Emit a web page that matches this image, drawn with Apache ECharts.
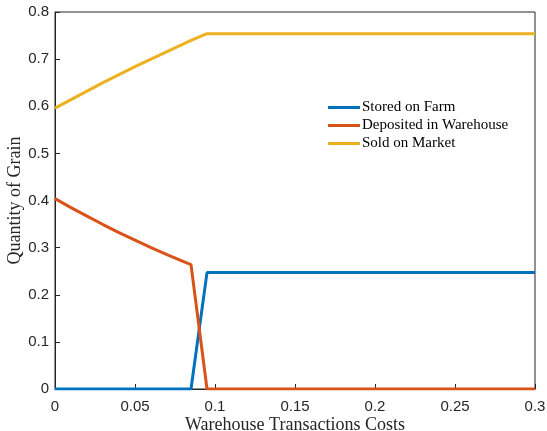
<!DOCTYPE html>
<html><head><meta charset="utf-8">
<script src="https://cdn.jsdelivr.net/npm/echarts@6/dist/echarts.min.js"></script>
<style>html,body{margin:0;padding:0;background:#fff}#c{width:547px;height:431px}</style>
</head><body><div id="c"></div>
<script>
const costs     = [0, 0.01, 0.02, 0.03, 0.04, 0.05, 0.06, 0.07, 0.08, 0.085, 0.095, 0.1, 0.15, 0.2, 0.25, 0.3];
const stored    = [0, 0, 0, 0, 0, 0, 0, 0, 0, 0, 0.247, 0.247, 0.247, 0.247, 0.247, 0.247];
const deposited = [0.404, 0.385, 0.367, 0.349, 0.332, 0.316, 0.300, 0.285, 0.271, 0.264, 0, 0, 0, 0, 0, 0];
const sold      = [0.596, 0.614, 0.632, 0.650, 0.667, 0.684, 0.700, 0.716, 0.732, 0.740, 0.754, 0.754, 0.754, 0.754, 0.754, 0.754];
const names = ['Stored on Farm', 'Deposited in Warehouse', 'Sold on Market'];
const colors = ['#0072BD', '#D95319', '#EDB120'];
const pairs = arr => costs.map((x, i) => [x, arr[i]]);

const chart = echarts.init(document.getElementById('c'), null, {renderer: 'canvas'});
const axisFont = {fontFamily: 'Liberation Sans', fontSize: 15, color: '#262626'};
chart.setOption({
  animation: false,
  grid: {left: 55, right: 12, top: 12, bottom: 42, outerBoundsMode: 'none', containLabel: false,
         show: true, borderColor: '#262626', borderWidth: 1, backgroundColor: 'transparent'},
  legend: {
    orient: 'vertical', left: 323, top: 95, itemGap: 3,
    icon: 'rect', itemWidth: 32, itemHeight: 3,
    textStyle: {fontFamily: 'Liberation Serif', fontSize: 15, color: '#000', padding: [0, 0, 0, -3]},
    data: names
  },
  xAxis: {
    type: 'value', min: 0, max: 0.3, interval: 0.05,
    name: 'Warehouse Transactions Costs', nameLocation: 'middle', nameGap: 27, nameMoveOverlap: false,
    nameTextStyle: {fontFamily: 'Liberation Serif', fontSize: 18, color: '#262626'},
    axisLine: {show: true, lineStyle: {color: '#262626', width: 1}},
    axisTick: {show: true, inside: true, length: 5, lineStyle: {color: '#262626'}},
    axisLabel: Object.assign({margin: 10, formatter: v => String(+v.toFixed(2))}, axisFont),
    splitLine: {show: false}
  },
  yAxis: {
    type: 'value', min: 0, max: 0.8, interval: 0.1,
    name: 'Quantity of Grain', nameLocation: 'middle', nameGap: 31, nameMoveOverlap: false,
    nameTextStyle: {fontFamily: 'Liberation Serif', fontSize: 18, color: '#262626'},
    axisLine: {show: true, lineStyle: {color: '#262626', width: 1}},
    axisTick: {show: true, inside: true, length: 5, lineStyle: {color: '#262626'}},
    axisLabel: Object.assign({margin: 6, formatter: v => String(+v.toFixed(1))}, axisFont),
    splitLine: {show: false}
  },
  series: [stored, deposited, sold].map((arr, i) => ({
    name: names[i], type: 'line', data: pairs(arr), showSymbol: false, symbol: 'none',
    lineStyle: {color: colors[i], width: 3}, itemStyle: {color: colors[i]}
  }))
});
</script></body></html>
